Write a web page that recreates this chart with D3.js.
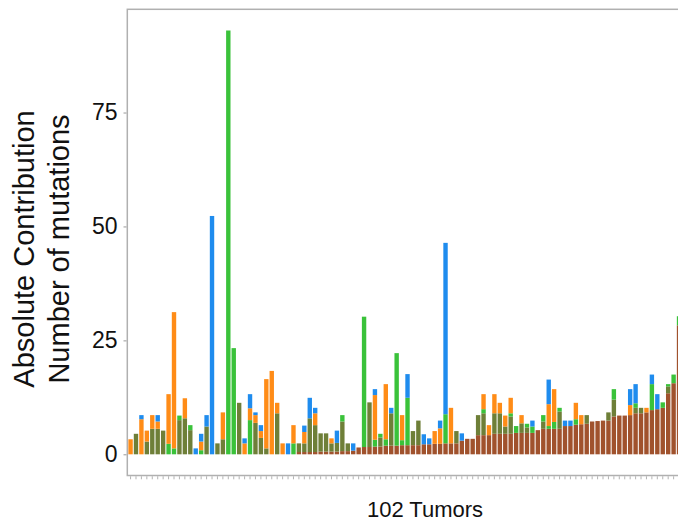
<!DOCTYPE html>
<html>
<head>
<meta charset="utf-8">
<script src="https://cdn.jsdelivr.net/npm/d3@7"></script>
<style>
  html, body { margin: 0; padding: 0; background: #fff; }
  svg { display: block; }
  text { font-family: "Liberation Sans", Arial, Helvetica, sans-serif; fill: #111; }
</style>
</head>
<body>
<svg id="chart" width="678" height="528"></svg>
<script>
// Signature contributions per tumor (number of mutations), one entry per tumor.
const tumors = d3.range(1, 103).map(i => "T" + i);

const brown = [
  0,0,0,0,0,0,0,0,0,0, 0,0,0,0,0,0,0,0,0,0, 0,0,0,0,0,0,0,0,0,0, 0,
  0.5,0.5,0.5,0.5,0.6,0.6,0.6,0.6,0.7,0.7,0.8,
  1.5,1.6,1.6,1.7,1.7,1.9,1.9,1.9,2.0,2.0,2.0,2.0,
  2.2,2.2,2.3,2.3,2.4,2.4,2.4,3.0,3.4,3.4,
  4.2,4.2,4.2,4.5,4.5,4.5,4.5,4.7,4.7,4.7,4.7,
  5.3,5.6,5.6,5.6,5.6,6.2,6.2,6.5,6.6,6.7,
  7.2,7.3,7.4,7.4,8.3,8.5,8.5,8.6,9.0,9.0,9.2,
  9.7,9.9,10.2,13.4,15.6,28.3
];
const olive = [
  0,4.5,0,2.8,5.6,5.6,5.2,0,0,7.5,
  7.9,5.3,0,0,6.1,0,2.4,3.3,0,0,
  11.3,0,0,6.9,3.6,1.3,0,9.0,0,0,
  0,1.9,1.9,7.4,5.9,4.0,4.0,1.8,1.9,6.5,
  1.7,0,0,0,9.8,0,2.0,0,7.1,0,
  0,0,3.1,5.4,0,0,0,0,0,0,
  2.7,0,0,0,4.4,4.8,0,4.5,4.5,1.6,
  3.8,0,2.1,1.2,0,0,1.6,0,0,3.8,
  0,0,0,0,1.9,0,0,0,1.8,3.7,
  0,0,0,1.2,1.2,0,0,0,0,1.5,
  0,0
];
const green = [
  0,0,0,0,0,0,0,2.3,1.3,1.0,
  0,1.1,0,0.9,0,0,0,0,93,23.3,
  0,0,7.5,0,0,0,0,0,0,0,
  2.4,0,0,0,0,0,0,0,0,1.4,
  0,0,0,28.6,0,1.5,0.8,1.4,0,20.3,
  1.1,10.4,0,0,0,0,0,0,6.4,0,
  0,0,0,0,0,0.9,0,0,0,0,
  0.7,1.5,0,0.8,1.4,0,1.4,0.6,1.5,0.8,
  0,0,1.2,0,0,0,0,0,0,2.3,
  0,0,0,1.0,0,0,5.7,0,1.2,0.5,
  1.9,2.0
];
const orange = [
  3.3,0,7.7,2.4,3.0,1.6,0,10.9,29.9,0,
  4.4,0,0,1.9,0,0,0,5.9,0,0,
  0,2.4,2.6,1.7,1.5,15.2,18.3,2.3,2.4,0,
  4.0,0,2.5,0,2.6,0,0,1.1,0,0,
  0,0,0,0,0,9.8,0,12.1,0,0,
  5.5,0,0,0,0,0,2.8,3.4,0,7.8,
  0,0,0,0,0,3.3,2.2,4.2,2.3,2.4,
  3.4,0,1.8,0,0,0,0,4.8,7.2,0,
  0,0,3.6,2.0,0,0,0,0,0,0,
  0,0,2.2,0,0,1.0,0,0,0,0,
  0,0
];
const blue = [
  0,0,0.9,0,0,1.4,0,0,0,0,
  0,0,1.3,1.7,2.5,52.3,0,0,0,0,
  0,1.1,3.1,0.6,1.3,0,0,0,0,2.4,
  0,0,1.4,4.5,1.2,0,0,0,2.7,0,
  0,1.6,0,0,0,1.3,0,0,1.2,0,
  0,5.2,0,0,2.2,1.3,0,1.7,37.6,0,
  0,1.6,0,0,0,0,0,0,0,0,
  0,0,0,0,1.3,0,0,5.4,0,0,
  1.2,1.2,0,0,0,0,0,0,0,0,
  0,0,3.5,4.2,0,0,2.1,3.3,0,0,
  0,0
];
const yTicks = [0, 25, 50, 75];
const xTitle = "102 Tumors";
const yTitleLines = ["Absolute Contribution", "Number of mutations"];

const keys = ["brown", "olive", "green", "orange", "blue"];
const colors = {
  brown: "#A0522D",
  olive: "#6E7F38",
  green: "#3AC23A",
  orange: "#FF8C17",
  blue: "#1F8CEE"
};

const rows = tumors.map((t, i) => ({
  tumor: t,
  brown: brown[i], olive: olive[i], green: green[i], orange: orange[i], blue: blue[i]
}));

const svg = d3.select("#chart");
const panel = { left: 127.3, top: 9.3, right: 682.3, bottom: 475.5 };

const x = d3.scaleBand()
  .domain(tumors)
  .range([panel.left, panel.right])
  .paddingInner(0.1)
  .paddingOuter(0.15);

const y = d3.scaleLinear()
  .domain([-4.65, 97.65])
  .range([panel.bottom, panel.top]);

const series = d3.stack().keys(keys)(rows);

// stacked bars
const inset = 0.25;
svg.append("g")
  .selectAll("g")
  .data(series)
  .join("g")
  .attr("fill", d => colors[d.key])
  .selectAll("rect")
  .data(d => d.filter(s => s[1] - s[0] > 0))
  .join("rect")
  .attr("x", d => x(d.data.tumor) + inset)
  .attr("width", x.bandwidth() - 2 * inset)
  .attr("y", d => y(d[1]))
  .attr("height", d => y(d[0]) - y(d[1]));

// panel border
svg.append("rect")
  .attr("x", panel.left)
  .attr("y", panel.top)
  .attr("width", panel.right - panel.left)
  .attr("height", panel.bottom - panel.top)
  .attr("fill", "none")
  .attr("stroke", "#B0B0B0")
  .attr("stroke-width", 1.5);

// y axis
const yAxis = d3.axisLeft(y).tickValues(yTicks).tickSize(3).tickPadding(6).tickFormat(d3.format("d"));
const gy = svg.append("g").attr("transform", `translate(${panel.left - 0.8},0)`).call(yAxis);
gy.select(".domain").remove();
gy.selectAll(".tick line").attr("stroke", "#999");
gy.selectAll(".tick text")
  .attr("font-size", 23)
  .attr("font-family", '"Liberation Sans", Arial, sans-serif')
  .attr("fill", "#111");

// x axis (one tick per tumor, no labels)
const xAxis = d3.axisBottom(x).tickSize(3).tickFormat("");
const gx = svg.append("g").attr("transform", `translate(0,${panel.bottom + 0.8})`).call(xAxis);
gx.select(".domain").remove();
gx.selectAll(".tick line").attr("stroke", "#A0A0A0").attr("stroke-width", 0.8);

// axis titles
svg.append("text")
  .attr("x", 425)
  .attr("y", 517)
  .attr("text-anchor", "middle")
  .attr("font-size", 22)
  .text(xTitle);

const yTitleX = [33.5, 68.5];
yTitleLines.forEach((line, i) => {
  svg.append("text")
    .attr("transform", `translate(${yTitleX[i]},249) rotate(-90)`)
    .attr("text-anchor", "middle")
    .attr("font-size", 29)
    .text(line);
});
</script>
</body>
</html>
